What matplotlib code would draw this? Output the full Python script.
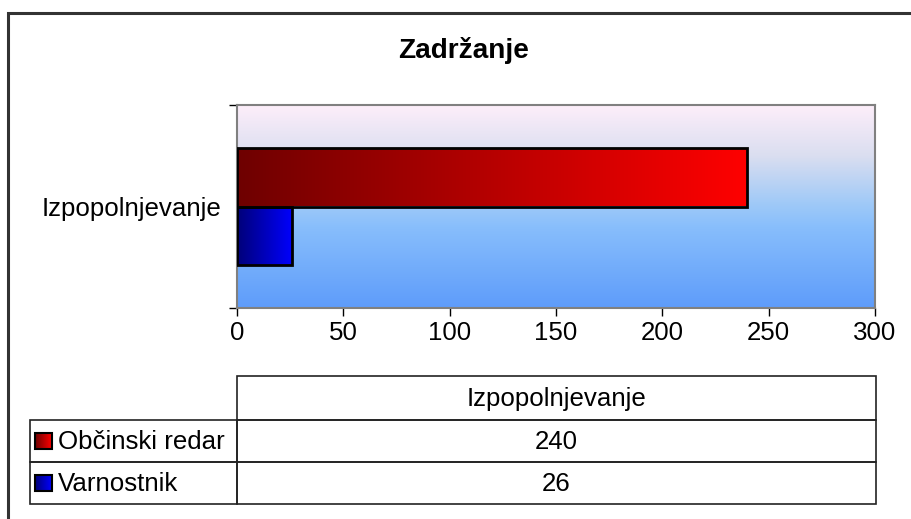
import numpy as np
import matplotlib
matplotlib.use("Agg")
import matplotlib.pyplot as plt
from matplotlib.colors import LinearSegmentedColormap
from matplotlib.patches import Rectangle

plt.rcParams["font.family"] = ["Liberation Sans", "DejaVu Sans"]

# data
title = "Zadržanje"
categories = ["Izpopolnjevanje"]
series = ["Občinski redar", "Varnostnik"]
values = [240, 26]
xticks = [0, 50, 100, 150, 200, 250, 300]

W, H = 912, 519
FS = 18.6
fig = plt.figure(figsize=(W / 100, H / 100), dpi=100)


def px(x0, y0, x1, y1):
    # pixel box (top-left origin) -> figure fraction rect
    return [x0 / W, 1 - y1 / H, (x1 - x0) / W, (y1 - y0) / H]


# outer frame (only left/top visible)
bg = fig.add_axes([0, 0, 1, 1])
bg.set_xlim(0, W); bg.set_ylim(H, 0); bg.axis("off")
bg.plot([8, 8, W + 5], [H + 5, 13, 13], color="#333333", lw=2.2, solid_joinstyle="miter")
bg.text(464, 50, title, ha="center", va="center", fontsize=FS + 1.6, fontweight="bold")

# plot area
ax = fig.add_axes(px(237, 105, 875, 308))
ax.set_xlim(0, 300)
ax.set_ylim(-0.5, 0.5)

back = LinearSegmentedColormap.from_list(
    "back", [(0, "#FDEEFA"), (0.25, "#DADEF0"), (0.5, "#9CC8F8"),
             (0.6, "#88BEFC"), (1, "#5E9CFA")])
grad = np.linspace(0, 1, 256)[:, None]
ax.imshow(grad, cmap=back, extent=[0, 300, -0.5, 0.5], aspect="auto",
          origin="upper", zorder=0)

bar_cmaps = [
    LinearSegmentedColormap.from_list("red", ["#6E0000", "#FF0000"]),
    LinearSegmentedColormap.from_list("blue", ["#000078", "#0000FF"]),
]
h = 0.286
hgrad = np.linspace(0, 1, 256)[None, :]
for i, (name, v) in enumerate(zip(series, values)):
    yc = (0.5 - i) * h
    bar = ax.barh(yc, v, height=h, facecolor="none", edgecolor="black",
                  linewidth=2, zorder=3)[0]
    im = ax.imshow(hgrad, cmap=bar_cmaps[i], extent=[0, v, yc - h / 2, yc + h / 2],
                   aspect="auto", zorder=2)
    im.set_clip_path(bar)
ax.set_xlim(0, 300)
ax.set_ylim(-0.5, 0.5)

for s in ax.spines.values():
    s.set_color("#808080")
    s.set_linewidth(1.5)
ax.set_xticks(xticks)
ax.set_xticklabels([str(t) for t in xticks], fontsize=FS)
ax.tick_params(axis="x", length=6, width=1, color="black", pad=3)
ax.set_yticks([-0.5, 0.5])
ax.set_yticklabels([])
ax.tick_params(axis="y", length=6, width=1, color="black")
ax.set_yticks([0], minor=True)
ax.set_yticklabels(categories, minor=True, fontsize=FS)
ax.tick_params(axis="y", which="minor", length=0, pad=11)

# data table
lc = "#222222"
x0, x1, x2 = 30, 237, 876
rows = [376, 420, 462, 504]
bg.add_patch(Rectangle((x1, rows[0]), x2 - x1, rows[1] - rows[0], fill=False, ec=lc, lw=1.2))
for r in range(2):
    bg.add_patch(Rectangle((x0, rows[r + 1]), x1 - x0, rows[r + 2] - rows[r + 1], fill=False, ec=lc, lw=1.2))
    bg.add_patch(Rectangle((x1, rows[r + 1]), x2 - x1, rows[r + 2] - rows[r + 1], fill=False, ec=lc, lw=1.2))
bg.text((x1 + x2) / 2, (rows[0] + rows[1]) / 2 + 1, categories[0], ha="center", va="center", fontsize=FS)
for r, (name, v) in enumerate(zip(series, values)):
    yc = (rows[r + 1] + rows[r + 2]) / 2
    sw = bg.add_patch(Rectangle((35, yc - 8), 17, 16, fc="none", ec="black", lw=1.5, zorder=3))
    im = bg.imshow(hgrad, cmap=bar_cmaps[r], extent=[35, 52, yc + 8, yc - 8],
                   aspect="auto", zorder=2)
    im.set_clip_path(sw)
    bg.text(58, yc + 1, name, ha="left", va="center", fontsize=FS)
    bg.text((x1 + x2) / 2, yc + 1, str(v), ha="center", va="center", fontsize=FS)
bg.set_xlim(0, W); bg.set_ylim(H, 0)

fig.savefig("out.png", dpi=100)
